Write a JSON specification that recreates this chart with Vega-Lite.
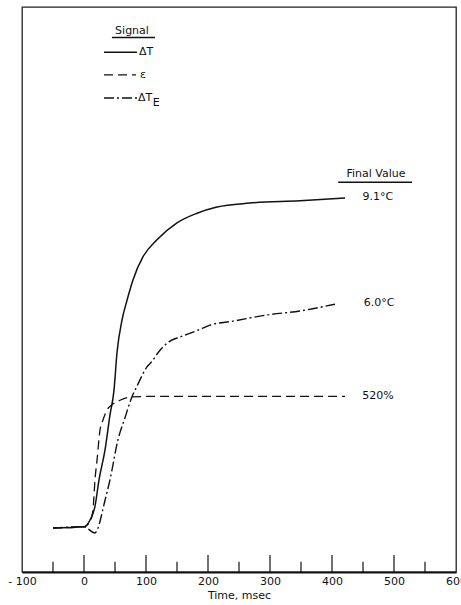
{
  "$schema": "https://vega.github.io/schema/vega-lite/v6.json",
  "width": 434,
  "height": 565,
  "autosize": {"type": "none"},
  "padding": {"left": 22, "top": 7, "right": 5, "bottom": 33},
  "background": "white",
  "config": {
    "view": {"stroke": "#222", "strokeWidth": 1.3},
    "font": "DejaVu Sans"
  },
  "datasets": {
    "curves": [
      {"sig": "dT", "part": "curve", "t": -50, "v": 7.8},
      {"sig": "dT", "part": "curve", "t": 0, "v": 8.0},
      {"sig": "dT", "part": "curve", "t": 9.7, "v": 9.2},
      {"sig": "dT", "part": "curve", "t": 17.7, "v": 11.6},
      {"sig": "dT", "part": "curve", "t": 24.2, "v": 16.3},
      {"sig": "dT", "part": "curve", "t": 33.9, "v": 21.6},
      {"sig": "dT", "part": "curve", "t": 41.9, "v": 27.8},
      {"sig": "dT", "part": "curve", "t": 48.4, "v": 32.2},
      {"sig": "dT", "part": "curve", "t": 53.2, "v": 38.8},
      {"sig": "dT", "part": "curve", "t": 61.3, "v": 44.6},
      {"sig": "dT", "part": "curve", "t": 69.4, "v": 48.1},
      {"sig": "dT", "part": "curve", "t": 79, "v": 51.7},
      {"sig": "dT", "part": "curve", "t": 95.2, "v": 55.8},
      {"sig": "dT", "part": "curve", "t": 117.7, "v": 58.8},
      {"sig": "dT", "part": "curve", "t": 150, "v": 61.8},
      {"sig": "dT", "part": "curve", "t": 182.3, "v": 63.5},
      {"sig": "dT", "part": "curve", "t": 214.5, "v": 64.6},
      {"sig": "dT", "part": "curve", "t": 267.7, "v": 65.3},
      {"sig": "dT", "part": "curve", "t": 348.4, "v": 65.7},
      {"sig": "dT", "part": "curve", "t": 421, "v": 66.2},
      {"sig": "dT", "part": "key", "t": 32.3, "v": 92.0},
      {"sig": "dT", "part": "key", "t": 85.5, "v": 92.0},

      {"sig": "eps", "part": "curve", "t": -50, "v": 7.8},
      {"sig": "eps", "part": "curve", "t": 0, "v": 8.0},
      {"sig": "eps", "part": "curve", "t": 9.7, "v": 8.9},
      {"sig": "eps", "part": "curve", "t": 14.5, "v": 11.0},
      {"sig": "eps", "part": "curve", "t": 17.7, "v": 16.3},
      {"sig": "eps", "part": "curve", "t": 21, "v": 19.8},
      {"sig": "eps", "part": "curve", "t": 25.8, "v": 25.1},
      {"sig": "eps", "part": "curve", "t": 30.6, "v": 26.9},
      {"sig": "eps", "part": "curve", "t": 37.1, "v": 28.7},
      {"sig": "eps", "part": "curve", "t": 45.2, "v": 29.6},
      {"sig": "eps", "part": "curve", "t": 58.1, "v": 30.4},
      {"sig": "eps", "part": "curve", "t": 77.4, "v": 31.0},
      {"sig": "eps", "part": "curve", "t": 120, "v": 31.1},
      {"sig": "eps", "part": "curve", "t": 200, "v": 31.1},
      {"sig": "eps", "part": "curve", "t": 300, "v": 31.1},
      {"sig": "eps", "part": "curve", "t": 421, "v": 31.1},
      {"sig": "eps", "part": "key", "t": 32.3, "v": 88.0},
      {"sig": "eps", "part": "key", "t": 83.9, "v": 88.0},

      {"sig": "dTE", "part": "curve", "t": -50, "v": 7.8},
      {"sig": "dTE", "part": "curve", "t": 0, "v": 8.0},
      {"sig": "dTE", "part": "curve", "t": 17.7, "v": 6.9},
      {"sig": "dTE", "part": "curve", "t": 21, "v": 7.4},
      {"sig": "dTE", "part": "curve", "t": 33.9, "v": 12.7},
      {"sig": "dTE", "part": "curve", "t": 41.9, "v": 16.3},
      {"sig": "dTE", "part": "curve", "t": 54.8, "v": 23.4},
      {"sig": "dTE", "part": "curve", "t": 66.1, "v": 27.3},
      {"sig": "dTE", "part": "curve", "t": 77.4, "v": 31.0},
      {"sig": "dTE", "part": "curve", "t": 85.5, "v": 32.9},
      {"sig": "dTE", "part": "curve", "t": 101.6, "v": 36.3},
      {"sig": "dTE", "part": "curve", "t": 109.7, "v": 37.3},
      {"sig": "dTE", "part": "curve", "t": 119.4, "v": 38.8},
      {"sig": "dTE", "part": "curve", "t": 133.9, "v": 40.5},
      {"sig": "dTE", "part": "curve", "t": 159.7, "v": 41.8},
      {"sig": "dTE", "part": "curve", "t": 183.9, "v": 42.8},
      {"sig": "dTE", "part": "curve", "t": 203.2, "v": 43.7},
      {"sig": "dTE", "part": "curve", "t": 240.3, "v": 44.4},
      {"sig": "dTE", "part": "curve", "t": 295.2, "v": 45.5},
      {"sig": "dTE", "part": "curve", "t": 348.4, "v": 46.2},
      {"sig": "dTE", "part": "curve", "t": 404.8, "v": 47.4},
      {"sig": "dTE", "part": "key", "t": 32.3, "v": 83.9},
      {"sig": "dTE", "part": "key", "t": 85.5, "v": 83.9}
    ],
    "majorTicks": [
      {"t": 0}, {"t": 100}, {"t": 200}, {"t": 300}, {"t": 400}, {"t": 500}
    ],
    "minorTicks": [
      {"t": -50}, {"t": 50}, {"t": 150}, {"t": 250}, {"t": 350}, {"t": 450}, {"t": 550}
    ],
    "leftText": [
      {"label": "ΔT", "t": 88.7, "v": 92.0},
      {"label": "ε", "t": 90.3, "v": 88.0},
      {"label": "ΔT", "t": 87, "v": 83.9},
      {"label": "E", "t": 110.8, "v": 83.0}
    ],
    "centerText": [
      {"label": "Signal", "t": 77.4, "v": 95.8},
      {"label": "Final Value", "t": 471, "v": 70.4},
      {"label": "9.1°C", "t": 474, "v": 66.4},
      {"label": "6.0°C", "t": 476, "v": 47.6},
      {"label": "520%", "t": 474, "v": 31.2}
    ],
    "underlines": [
      {"t": 45, "t2": 114.5, "v": 94.6},
      {"t": 410, "t2": 529, "v": 69.0}
    ]
  },
  "encoding": {
    "x": {
      "field": "t",
      "type": "quantitative",
      "scale": {"domain": [-100, 600], "nice": false, "zero": false},
      "axis": {
        "values": [-100, 0, 100, 200, 300, 400, 500, 600],
        "labelExpr": "datum.value < 0 ? '- ' + abs(datum.value) : datum.label",
        "format": "d",
        "labelFlush": false,
        "labelOverlap": false,
        "grid": false,
        "ticks": false,
        "domainColor": "#111",
        "domainWidth": 2,
        "labelPadding": 3,
        "labelFontSize": 11,
        "labelColor": "#111",
        "title": "Time, msec",
        "titleFontSize": 11,
        "titleFontWeight": "normal",
        "titleColor": "#111",
        "titlePadding": 3
      }
    }
  },
  "layer": [
    {
      "data": {"name": "majorTicks"},
      "mark": {"type": "rule", "color": "#111", "strokeWidth": 1.2},
      "encoding": {
        "y": {"datum": 0, "type": "quantitative", "scale": {"domain": [0, 100], "nice": false, "zero": false}, "axis": null},
        "y2": {"datum": 3.0}
      }
    },
    {
      "data": {"name": "minorTicks"},
      "mark": {"type": "rule", "color": "#111", "strokeWidth": 1.2},
      "encoding": {
        "y": {"datum": 0, "type": "quantitative", "scale": {"domain": [0, 100], "nice": false, "zero": false}, "axis": null},
        "y2": {"datum": 1.8}
      }
    },
    {
      "data": {"name": "curves"},
      "transform": [{"filter": "datum.sig === 'dT'"}],
      "mark": {"type": "line", "interpolate": "monotone", "color": "#111", "strokeWidth": 1.5},
      "encoding": {
        "y": {"field": "v", "type": "quantitative", "scale": {"domain": [0, 100], "nice": false, "zero": false}, "axis": null},
        "detail": {"field": "part"}
      }
    },
    {
      "data": {"name": "curves"},
      "transform": [{"filter": "datum.sig === 'eps'"}],
      "mark": {"type": "line", "interpolate": "monotone", "color": "#111", "strokeWidth": 1.3, "strokeDash": [9, 5]},
      "encoding": {
        "y": {"field": "v", "type": "quantitative", "scale": {"domain": [0, 100], "nice": false, "zero": false}, "axis": null},
        "detail": {"field": "part"}
      }
    },
    {
      "data": {"name": "curves"},
      "transform": [{"filter": "datum.sig === 'dTE'"}],
      "mark": {"type": "line", "interpolate": "monotone", "color": "#111", "strokeWidth": 1.4, "strokeDash": [10, 3, 2, 3]},
      "encoding": {
        "y": {"field": "v", "type": "quantitative", "scale": {"domain": [0, 100], "nice": false, "zero": false}, "axis": null},
        "detail": {"field": "part"}
      }
    },
    {
      "data": {"name": "underlines"},
      "mark": {"type": "rule", "color": "#111", "strokeWidth": 1.5},
      "encoding": {
        "y": {"field": "v", "type": "quantitative", "scale": {"domain": [0, 100], "nice": false, "zero": false}, "axis": null},
        "x2": {"field": "t2"}
      }
    },
    {
      "data": {"name": "leftText"},
      "mark": {"type": "text", "align": "left", "baseline": "middle", "fontSize": 11, "color": "#111"},
      "encoding": {
        "y": {"field": "v", "type": "quantitative", "scale": {"domain": [0, 100], "nice": false, "zero": false}, "axis": null},
        "text": {"field": "label"}
      }
    },
    {
      "data": {"name": "centerText"},
      "mark": {"type": "text", "align": "center", "baseline": "middle", "fontSize": 11, "color": "#111"},
      "encoding": {
        "y": {"field": "v", "type": "quantitative", "scale": {"domain": [0, 100], "nice": false, "zero": false}, "axis": null},
        "text": {"field": "label"}
      }
    }
  ]
}
